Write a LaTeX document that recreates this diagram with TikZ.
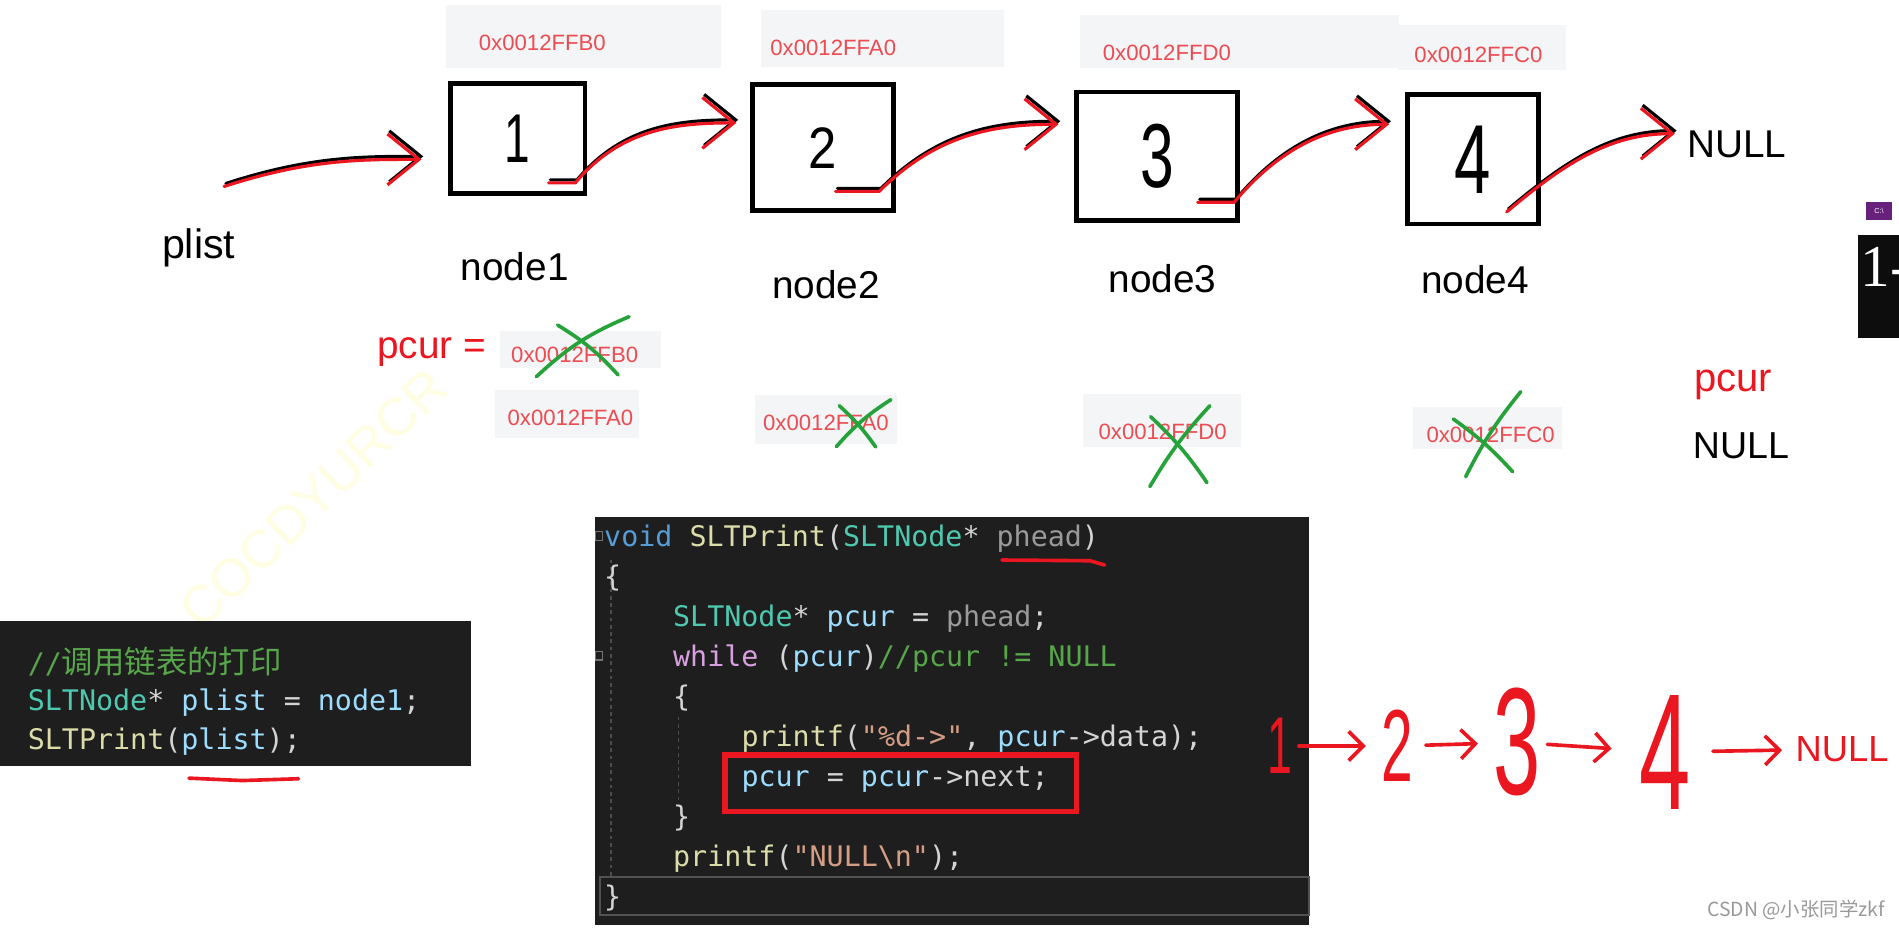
\documentclass[tikz,border=0pt]{standalone}
\usepackage{fontspec}
\setmainfont{Liberation Sans}
\newfontfamily\codefont{DejaVu Sans Mono}
\newfontfamily\cjk{Noto Sans CJK SC}
\newfontfamily\serifface{Liberation Serif}
\usetikzlibrary{arrows.meta,calc}
\definecolor{handred}{RGB}{234,22,32}
\definecolor{addrred}{RGB}{236,76,82}
\definecolor{xgreen}{RGB}{38,162,58}
\definecolor{addrbg}{RGB}{244,245,247}
\definecolor{codebg}{RGB}{30,30,30}
\definecolor{codetxt}{RGB}{212,212,212}
\definecolor{ckwc}{RGB}{86,156,214}
\definecolor{cfnc}{RGB}{220,220,170}
\definecolor{ctyc}{RGB}{78,201,176}
\definecolor{cvarc}{RGB}{156,220,254}
\definecolor{cparc}{RGB}{154,154,154}
\definecolor{ccomc}{RGB}{87,166,74}
\definecolor{cstrc}{RGB}{214,157,133}
\definecolor{cpurc}{RGB}{216,160,223}
\definecolor{vsicon}{RGB}{104,33,122}
\definecolor{wmark}{RGB}{255,253,226}
\newcommand{\ckw}[1]{\textcolor{ckwc}{#1}}
\newcommand{\cfn}[1]{\textcolor{cfnc}{#1}}
\newcommand{\cty}[1]{\textcolor{ctyc}{#1}}
\newcommand{\cvar}[1]{\textcolor{cvarc}{#1}}
\newcommand{\cpar}[1]{\textcolor{cparc}{#1}}
\newcommand{\ccom}[1]{\textcolor{ccomc}{#1}}
\newcommand{\cstr}[1]{\textcolor{cstrc}{#1}}
\newcommand{\cpur}[1]{\textcolor{cpurc}{#1}}
\tikzset{
  listcell/.style={draw, line width=4pt, inner sep=0pt},
  lbl/.style={font=\fontsize{32}{34}\selectfont, inner sep=0pt},
  addr/.style={text=addrred, font=\fontsize{18.3}{20}\selectfont, inner sep=0pt},
  addrfill/.style={fill=addrbg, draw=none},
  pcurtxt/.style={text=handred, font=\fontsize{32}{34}\selectfont, inner sep=0pt},
  handpen/.style={draw=#1, line width=2.6pt, line cap=round, line join=round, -{Straight Barb[length=26pt,width=42pt]}},
  xmark/.style={draw=xgreen, line width=3pt, line cap=round},
  codeln/.style={anchor=base west, inner sep=0pt, text=codetxt, font=\codefont\fontsize{23.4}{33}\selectfont},
  guideln/.style={draw=black!70, line width=1.2pt, dash pattern=on 3pt off 3pt},
  curline/.style={draw=black!68, line width=2pt},
  redmark/.style={draw=handred, line width=3pt, line cap=round, line join=round},
  redbox/.style={draw=handred, line width=4.5pt},
  handtxt/.style={text=handred, inner sep=0pt},
  handarr/.style={draw=handred, line width=3pt, line cap=round, -{Straight Barb[length=12pt,width=24pt]}},
  wmtext/.style={text=wmark, font=\fontsize{44}{44}\selectfont, inner sep=0pt},
}
\begin{document}
\begin{tikzpicture}[x=1pt,y=-1pt]
\useasboundingbox (0,0) rectangle (1568,768);
\fill[white] (0,0) rectangle (1568,768);

% faint watermark
\node[wmtext, rotate=44] (wm) at (259,411.5) {COCDYURCR};

% address strips above the list
\fill[addrfill] (368,4) rectangle (595,56);
\fill[addrfill] (628,8) rectangle (829,55);
\fill[addrfill] (892,12) rectangle (1155,56);
\fill[addrfill] (1154,21) rectangle (1293,58);
\node[addr] (a1) at (447.8,35.8) {0x0012FFB0};
\node[addr] (a2) at (688,39.4) {0x0012FFA0};
\node[addr] (a3) at (963.5,44) {0x0012FFD0};
\node[addr] (a4) at (1220.8,45.4) {0x0012FFC0};

% the four cells
\node[listcell, minimum width=111pt, minimum height=91pt, font=\fontsize{38}{38}\selectfont] (b1) at (427.5,114.5) {\scalebox{1}[1.5]{1}};
\node[listcell, minimum width=117pt, minimum height=104pt, font=\fontsize{42}{42}\selectfont] (b2) at (679.5,122) {\scalebox{1}[1.15]{2}};
\node[listcell, minimum width=133pt, minimum height=106pt, font=\fontsize{50}{50}\selectfont] (b3) at (955.5,129) {\scalebox{1}[1.5]{3}};
\node[listcell, minimum width=108pt, minimum height=107pt, font=\fontsize{54}{54}\selectfont] (b4) at (1216,131.5) {\scalebox{1}[1.5]{4}};

\node[lbl, font=\fontsize{34}{36}\selectfont] (plist) at (164,205) {plist};
\node[lbl] (n1) at (425,220) {node1};
\node[lbl] (n2) at (682,235) {node2};
\node[lbl] (n3) at (960,230) {node3};
\node[lbl] (n4) at (1218,231) {node4};
\node[lbl] (nullt) at (1434,119) {NULL};

% hand-drawn links, black stroke under red stroke
\coordinate (p0) at (185,154);
\coordinate (s1) at ($(b1.south east)+(-32,-11)$);
\coordinate (s2) at ($(b2.south east)+(-50,-18)$);
\coordinate (s3) at ($(b3.south east)+(-35,-17)$);
\coordinate (s4) at ($(b4.south east)+(-28,-12)$);
\foreach \pc/\dx/\dy in {black/1.5/2.5, handred/0/0}{
  \begin{scope}[transform canvas={xshift=\dx pt,yshift=\dy pt}]
    \draw[handpen=\pc, shorten >=22pt] (p0) to[out=18,in=180] ($(b1.north west)!0.68!(b1.south west)$);
    \draw[handpen=\pc, shorten >=11pt] (s1) -- ++(22,0) to[out=50,in=180] ($(b2.north west)!0.31!(b2.south west)$);
    \draw[handpen=\pc, shorten >=13pt] (s2) -- ++(36,0) to[out=45,in=180] ($(b3.north west)!0.26!(b3.south west)$);
    \draw[handpen=\pc, shorten >=13pt] (s3) -- ++(30,0) to[out=50,in=180] ($(b4.north west)!0.24!(b4.south west)$);
    \draw[handpen=\pc, shorten >=10pt] (s4) to[out=40,in=180] ($(nullt.north west)!0.12!(nullt.south west)$);
  \end{scope}
}

% pcur values
\node[pcurtxt] (pcur) at (356.5,291) {pcur =};
\fill[addrfill] (413,273) rectangle (546,304);
\fill[addrfill] (409,322) rectangle (528,361.7);
\fill[addrfill] (623,326) rectangle (740.6,366.6);
\fill[addrfill] (894,325.5) rectangle (1025,368.8);
\fill[addrfill] (1166.7,336) rectangle (1290,370.8);
\node[addr] (v1) at (474.5,293) {0x0012FFB0};
\node[addr] (v2) at (471,345.3) {0x0012FFA0};
\node[addr] (v3) at (682,349.5) {0x0012FFA0};
\node[addr] (v4) at (960,356.4) {0x0012FFD0};
\node[addr] (v5) at (1230.8,359.2) {0x0012FFC0};
\draw[xmark] (460.4,268.4) to[bend left=8] (510.4,309.6);
\draw[xmark] (519.4,261.5) to[bend right=10] (442.9,311);
\draw[xmark] (693,335) to[bend left=6] (723,369);
\draw[xmark] (735.6,330) to[bend right=8] (690.6,368.8);
\draw[xmark] (950,344) to[bend left=6] (996.6,398.5);
\draw[xmark] (999,335) to[bend right=6] (949.4,401.8);
\draw[xmark] (1200,346) to[bend left=6] (1249,389.5);
\draw[xmark] (1255.7,323.4) to[bend right=6] (1210.2,393.6);
\node[pcurtxt, font=\fontsize{33}{35}\selectfont] (pcurr) at (1431,318) {pcur};
\node[lbl, font=\fontsize{31}{33}\selectfont] (nullr) at (1437.5,368) {NULL};

% console window at the right edge
\fill[vsicon] (1541,166.5) rectangle (1562,181.6);
\node[text=white, font=\fontsize{6}{6}\selectfont, inner sep=0pt] (ico) at (1551.5,174) {C:\textbackslash};
\fill[black!95] (1534,194) rectangle (1568,279);
\node[anchor=base west, text=white, font=\serifface\fontsize{49}{49}\selectfont, inner sep=0pt] (con) at (1536,236.7) {1-};

% caller code
\fill[codebg] (0,512.5) rectangle (388.7,632.2);
\node[codeln] (l1) at (22.8,556) {\ccom{//{\cjk\fontsize{25.9}{33}\selectfont 调用链表的打印}}};
\node[codeln] (l2) at (22.8,587) {\cty{SLTNode}* \cvar{plist} = \cvar{node1};};
\node[codeln] (l3) at (22.8,619) {\cfn{SLTPrint}(\cvar{plist});};
\draw[redmark] (156,642.5) -- (200,644.5) -- (246.5,643);

% SLTPrint code
\fill[codebg] (491,426.6) rectangle (1081,764);
\draw[curline] (495.5,724) rectangle (1081,755.5);
\draw[guideln] (504.5,462) -- (504.5,724);
\draw[guideln] (560.2,591.7) -- (560.2,663.3);
\draw[black!55, line width=1pt] (491.5,439) rectangle (497.5,446);
\draw[black!55, line width=1pt] (491.5,538) rectangle (497.5,545);
\node[codeln] (c1) at (498.7,451.4) {\ckw{void} \cfn{SLTPrint}(\cty{SLTNode}* \cpar{phead})};
\node[codeln] (c2) at (498.7,484.4) {\{};
\node[codeln] (c3) at (555.6,517.4) {\cty{SLTNode}* \cvar{pcur} = \cpar{phead};};
\node[codeln] (c4) at (555.6,550.4) {\cpur{while} (\cvar{pcur})\ccom{//pcur != NULL}};
\node[codeln] (c5) at (555.6,583.4) {\{};
\node[codeln] (c6) at (612.1,616.4) {\cfn{printf}(\cstr{"\%d->"}, \cvar{pcur}->data);};
\node[codeln] (c7) at (612.1,649.4) {\cvar{pcur} = \cvar{pcur}->next;};
\node[codeln] (c8) at (555.6,682.4) {\}};
\node[codeln] (c9) at (555.6,715.4) {\cfn{printf}(\cstr{"NULL\textbackslash n"});};
\node[codeln] (c10) at (498.7,748.4) {\}};
\draw[redmark] (827.3,462.4) -- (900,463) -- (912,466.5);
\draw[redbox] (598.6,623.4) rectangle (888.8,670.2);

% printed result, hand written
\node[handtxt, font=\fontsize{37}{37}\selectfont] (h1) at (1057,616) {\scalebox{1}[1.8]{1}};
\node[handtxt, font=\fontsize{47}{47}\selectfont] (h2) at (1154,616) {\scalebox{1}[1.8]{2}};
\node[handtxt, font=\fontsize{70}{70}\selectfont] (h3) at (1253,613) {\scalebox{1}[1.8]{3}};
\node[handtxt, font=\fontsize{76}{76}\selectfont] (h4) at (1375,621) {\scalebox{1}[1.8]{4}};
\node[handtxt, font=\fontsize{30}{30}\selectfont] (hnull) at (1521,618.5) {NULL};
\draw[handarr, shorten <=5pt, shorten >=13pt] (h1) -- (h2);
\draw[handarr, shorten <=10pt, shorten >=13pt] (h2) -- (h3);
\draw[handarr, shorten <=5pt, shorten >=23pt] (h3) -- (h4);
\draw[handarr, shorten <=18pt, shorten >=11pt] (h4) -- (hnull);

\node[text=black!40, font=\cjk\fontsize{16}{16}\selectfont, inner sep=0pt] (csdn) at (1483,751) {CSDN @小张同学zkf};
\end{tikzpicture}
\end{document}
